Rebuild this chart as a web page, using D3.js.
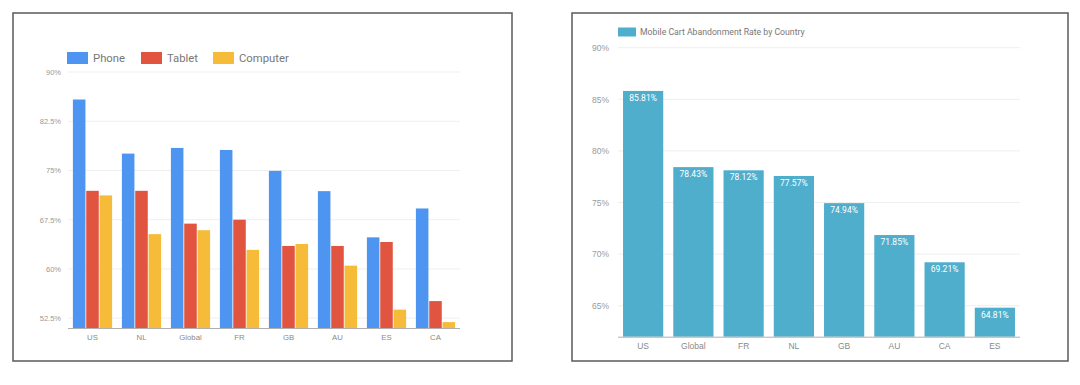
<!DOCTYPE html>
<html><head><meta charset="utf-8">
<script src="https://cdn.jsdelivr.net/npm/d3@7"></script>
<style>html,body{margin:0;padding:0;background:#fff;}svg{display:block;font-family:Roboto,sans-serif;}</style>
</head><body>
<svg id="c" width="1080" height="385"></svg>
<script>
// Left chart data
const leftCategories = ["US","NL","Global","FR","GB","AU","ES","CA"];
const seriesNames = ["Phone","Tablet","Computer"];
const phoneValues = [85.81,77.57,78.43,78.12,74.94,71.85,64.81,69.21];
const tabletValues = [71.9,71.9,66.9,67.5,63.5,63.5,64.1,55.1];
const computerValues = [71.2,65.3,65.9,62.9,63.8,60.5,53.8,51.9];
const leftTicks = [52.5,60,67.5,75,82.5,90];
const leftTickLabels = ["52.5%","60%","67.5%","75%","82.5%","90%"];

// Right chart data
const rightCategories = ["US","Global","FR","NL","GB","AU","CA","ES"];
const rightValues = [85.81,78.43,78.12,77.57,74.94,71.85,69.21,64.81];
const rightLabels = ["85.81%","78.43%","78.12%","77.57%","74.94%","71.85%","69.21%","64.81%"];
const rightTicks = [65,70,75,80,85,90];
const rightTickLabels = ["65%","70%","75%","80%","85%","90%"];
const rightSeriesName = "Mobile Cart Abandonment Rate by Country";

const colors = ["#4e95f2","#e05440","#f6bb38"];
const rightColor = "#50aecd";

const svg = d3.select("#c");

// panel borders
svg.append("rect").attr("x",13).attr("y",13).attr("width",499).attr("height",348)
  .attr("fill","none").attr("stroke","#5a5a5a").attr("stroke-width",1.5);
svg.append("rect").attr("x",572).attr("y",13).attr("width",496).attr("height",348)
  .attr("fill","none").attr("stroke","#5a5a5a").attr("stroke-width",1.5);

// ---------- Left chart ----------
{
  const x0 = d3.scaleBand().domain(leftCategories).range([68,460]).paddingInner(0.2).paddingOuter(0.1);
  const x1 = d3.scaleBand().domain(seriesNames).range([0,x0.bandwidth()]).paddingInner(0.06);
  const y = d3.scaleLinear().domain([51,90]).range([328,72]);
  const g = svg.append("g");
  g.selectAll("line.grid").data(leftTicks).join("line")
    .attr("x1",68).attr("x2",460).attr("y1",d=>y(d)).attr("y2",d=>y(d))
    .attr("stroke","#efefef").attr("stroke-width",1);
  const ya = d3.axisLeft(y).tickValues(leftTicks).tickFormat((d,i)=>leftTickLabels[i]).tickSize(0).tickPadding(7);
  const yg = g.append("g").attr("transform","translate(68,0)").call(ya);
  yg.select(".domain").remove();
  yg.selectAll("text").attr("fill","#9a9a9a").style("font-size","7.5px");
  const all = [phoneValues,tabletValues,computerValues];
  leftCategories.forEach((c,i)=>{
    seriesNames.forEach((s,j)=>{
      g.append("rect").attr("x",x0(c)+x1(s)).attr("width",x1.bandwidth())
        .attr("y",y(all[j][i])).attr("height",y(51)-y(all[j][i])).attr("fill",colors[j]);
    });
  });
  const xa = d3.axisBottom(x0).tickSize(0).tickPadding(6);
  const xg = g.append("g").attr("transform","translate(0,328)").call(xa);
  xg.select(".domain").attr("stroke","#b0b0b0").attr("d","M68,0.5H460");
  xg.selectAll("text").attr("fill","#8a8a8a").style("font-size","7.8px");
  const lx = [67,141,213];
  seriesNames.forEach((s,j)=>{
    g.append("rect").attr("x",lx[j]).attr("y",52).attr("width",21).attr("height",12).attr("fill",colors[j]);
    g.append("text").attr("x",lx[j]+26).attr("y",62.3).text(s).attr("fill","#777").style("font-size","11.3px");
  });
}

// ---------- Right chart ----------
{
  const x = d3.scaleBand().domain(rightCategories).range([618,1020]).paddingInner(0.2).paddingOuter(0.1);
  const y = d3.scaleLinear().domain([62,90]).range([336.7,47.7]);
  const g = svg.append("g");
  g.selectAll("line.grid").data(rightTicks).join("line")
    .attr("x1",618).attr("x2",1020).attr("y1",d=>y(d)).attr("y2",d=>y(d))
    .attr("stroke","#efefef").attr("stroke-width",1);
  const ya = d3.axisLeft(y).tickValues(rightTicks).tickFormat((d,i)=>rightTickLabels[i]).tickSize(0).tickPadding(9);
  const yg = g.append("g").attr("transform","translate(618,0)").call(ya);
  yg.select(".domain").remove();
  yg.selectAll("text").attr("fill","#9a9a9a").style("font-size","8.5px");
  g.selectAll("rect.bar").data(rightValues).join("rect")
    .attr("x",(d,i)=>x(rightCategories[i])).attr("width",x.bandwidth())
    .attr("y",d=>y(d)).attr("height",d=>y(62)-y(d)).attr("fill",rightColor);
  g.selectAll("text.val").data(rightValues).join("text")
    .attr("x",(d,i)=>x(rightCategories[i])+x.bandwidth()/2).attr("y",d=>y(d)+10)
    .attr("text-anchor","middle").attr("fill","#fff").style("font-size","8.5px")
    .text((d,i)=>rightLabels[i]);
  const xa = d3.axisBottom(x).tickSize(0).tickPadding(6);
  const xg = g.append("g").attr("transform","translate(0,336.7)").call(xa);
  xg.select(".domain").attr("stroke","#b0b0b0").attr("d","M618,0.5H1020");
  xg.selectAll("text").attr("fill","#8a8a8a").style("font-size","8.5px");
  g.append("rect").attr("x",618).attr("y",27.5).attr("width",18).attr("height",9).attr("fill",rightColor);
  g.append("text").attr("x",640).attr("y",35).text(rightSeriesName).attr("fill","#777").style("font-size","8.7px");
}
</script>
</body></html>
